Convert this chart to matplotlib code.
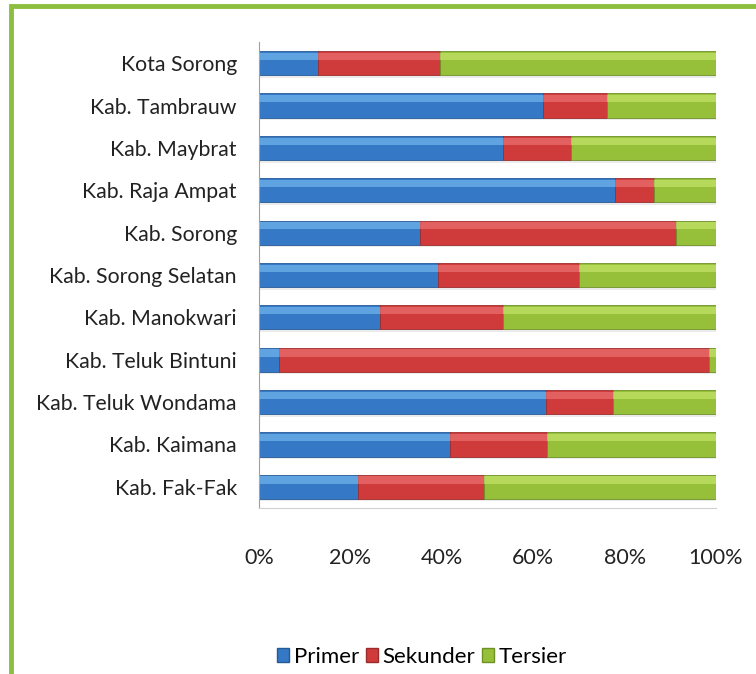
import numpy as np
import matplotlib
matplotlib.use('Agg')
from matplotlib import pyplot as plt
from matplotlib.patches import Rectangle, Patch

plt.rcParams['font.family'] = ['Lato', 'DejaVu Sans']

# data (persen)
wilayah = ['Kota Sorong', 'Kab. Tambrauw', 'Kab. Maybrat', 'Kab. Raja Ampat',
           'Kab. Sorong', 'Kab. Sorong Selatan', 'Kab. Manokwari',
           'Kab. Teluk Bintuni', 'Kab. Teluk Wondama', 'Kab. Kaimana',
           'Kab. Fak-Fak']
primer = [12.9, 62.1, 53.4, 77.9, 35.2, 39.2, 26.5, 4.4, 62.8, 41.8, 21.7]
sekunder = [26.7, 14.0, 14.9, 8.5, 56.0, 30.8, 26.9, 94.1, 14.7, 21.2, 27.5]
tersier = [60.4, 23.9, 31.7, 13.6, 8.8, 30.0, 46.6, 1.5, 22.5, 37.0, 50.8]
sektor = ['Primer', 'Sekunder', 'Tersier']
xticks = [0, 20, 40, 60, 80, 100]

warna = ['#3478c6', '#cf3b3b', '#97c03a']
terang = ['#7cc0f2', '#f27a7a', '#cdea72']
gelap = ['#265a96', '#9c2c2c', '#6f8f28']

fig = plt.figure(figsize=(7.56, 6.74), dpi=100)
ax = fig.add_axes([259/756, 1-508/674, 457/756, 466/674])

y = np.arange(len(wilayah))[::-1]
h = 0.57
left = np.zeros(len(wilayah))
for i, vals in enumerate([primer, sekunder, tersier]):
    vals = np.array(vals)
    # bayangan
    ax.barh(y - 0.06, vals, height=h, left=left, color='#000000', alpha=0.08,
            linewidth=0, zorder=1)
    ax.barh(y, vals, height=h, left=left, color=warna[i], edgecolor=gelap[i],
            linewidth=0.6, zorder=2)
    # kilap di bagian atas batang
    ax.barh(y + h*0.28, vals, height=h*0.3, left=left, color=terang[i],
            alpha=0.6, linewidth=0, zorder=3)
    left += vals

ax.set_xlim(0, 100)
ax.set_ylim(-0.5, len(wilayah) - 0.5)
ax.set_yticks(y)
ax.set_yticklabels(wilayah, fontsize=15.3, color='#222222')
ax.set_xticks(xticks)
ax.set_xticklabels(['%d%%' % t for t in xticks], fontsize=15.5, color='#222222')
ax.tick_params(axis='both', length=0)
ax.tick_params(axis='x', pad=29)
ax.tick_params(axis='y', pad=16)
for s in ['top', 'right']:
    ax.spines[s].set_visible(False)
ax.spines['left'].set_color('#a0a0a0')
ax.spines['bottom'].set_color('#d0d0d0')

handles = [Patch(facecolor=warna[i], edgecolor=gelap[i]) for i in range(3)]
fig.legend(handles, sektor, loc='center', bbox_to_anchor=(422/756, 1-657/674),
           ncol=3, frameon=False, fontsize=16, handlelength=0.55,
           handleheight=0.55, handletextpad=0.2, columnspacing=0.3)

# bingkai hijau
fig.patches.append(Rectangle((11/756, -0.05), 1.0, 1 - 6/674 + 0.05,
                             transform=fig.transFigure, fill=False,
                             edgecolor='#8cbf3f', linewidth=3.5))

fig.savefig('out.png', dpi=100)
